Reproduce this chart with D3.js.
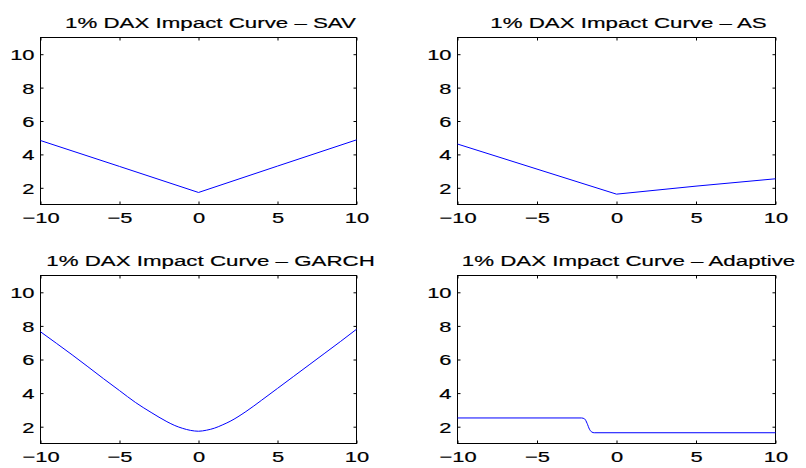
<!DOCTYPE html>
<html>
<head>
<meta charset="utf-8">
<script src="https://cdn.jsdelivr.net/npm/d3@7"></script>
<style>
  html, body { margin: 0; padding: 0; background: #fff; }
  svg { display: block; }
  text { font-family: "Liberation Sans", Arial, Helvetica, sans-serif; fill: #000; stroke: #000; stroke-width: 0.2px; }
</style>
</head>
<body>
<svg id="chart" width="806" height="468"></svg>
<script>
// Shared axis settings
const xTicks = [-10, -5, 0, 5, 10];
const yTicks = [2, 4, 6, 8, 10];
const xDomain = [-10, 10];
const yDomain = [1, 11];

// News impact curves (shock in %, 1% VaR level)
const savX = [-10, -5, 0, 5, 10];
const savY = [4.83, 3.28, 1.72, 3.30, 4.87];

const asX = [-10, -5, 0, 5, 10];
const asY = [4.62, 3.12, 1.62, 2.10, 2.54];

const garchX = [-10, -9, -8, -7, -6, -5, -4, -3, -2, -1.5, -1, -0.5, 0, 0.5, 1, 1.5, 2, 3, 4, 5, 6, 7, 8, 9, 10];
const garchY = [7.65, 6.97, 6.28, 5.57, 4.85, 4.15, 3.45, 2.85, 2.30, 2.07, 1.90, 1.78, 1.73, 1.79, 1.91, 2.10, 2.32, 2.90, 3.58, 4.28, 4.98, 5.68, 6.38, 7.08, 7.80];

const adaptX = [-10, -2.2, -2.0, -1.85, -1.7, -1.55, -1.4, 10];
const adaptY = [2.52, 2.52, 2.46, 2.20, 1.85, 1.68, 1.64, 1.64];

const titles = [
  "1% DAX Impact Curve \u2013 SAV",
  "1% DAX Impact Curve \u2013 AS",
  "1% DAX Impact Curve \u2013 GARCH",
  "1% DAX Impact Curve \u2013 Adaptive"
];

const panels = [
  { title: titles[0], xs: savX, ys: savY, box: [40.5, 356.5, 37.5, 204.5], curve: d3.curveLinear },
  { title: titles[1], xs: asX, ys: asY, box: [457.5, 775.5, 37.5, 204.5], curve: d3.curveLinear },
  { title: titles[2], xs: garchX, ys: garchY, box: [40.5, 356.5, 275.5, 443.5], curve: d3.curveMonotoneX },
  { title: titles[3], xs: adaptX, ys: adaptY, box: [457.5, 775.5, 275.5, 443.5], curve: d3.curveMonotoneX }
];

const stretch = 1.46;      // wide type used for tick labels
const fontSize = 15;
const titleSize = 15.5;
const titleStretch = 1.44; // and for the panel titles
const tickLen = 3;

const svg = d3.select("#chart");

panels.forEach(p => {
  const [x0, x1, y0, y1] = p.box;
  const x = d3.scaleLinear().domain(xDomain).range([x0, x1]);
  const y = d3.scaleLinear().domain(yDomain).range([y1, y0]);
  const g = svg.append("g");

  // axes frame
  g.append("rect")
    .attr("x", x0).attr("y", y0)
    .attr("width", x1 - x0).attr("height", y1 - y0)
    .attr("fill", "#fff").attr("stroke", "#000").attr("stroke-width", 1);

  // curve
  const pts = p.xs.map((v, i) => [v, p.ys[i]]);
  g.append("path")
    .datum(pts)
    .attr("fill", "none")
    .attr("stroke", "#0000ff")
    .attr("stroke-width", 1)
    .attr("d", d3.line().x(d => x(d[0])).y(d => y(d[1])).curve(p.curve));

  // bottom axis with labels, inward ticks
  const bottom = g.append("g")
    .attr("transform", `translate(0,${y1})`)
    .call(d3.axisBottom(x).tickValues(xTicks).tickSizeInner(-tickLen).tickSizeOuter(0));
  bottom.select(".domain").remove();
  bottom.selectAll("text")
    .attr("y", 0).attr("dy", null)
    .attr("font-size", fontSize)
    .attr("font-family", null)
    .attr("transform", `translate(0,18) scale(${stretch},1)`);

  // left axis with labels
  const left = g.append("g")
    .attr("transform", `translate(${x0},0)`)
    .call(d3.axisLeft(y).tickValues(yTicks).tickSizeInner(-tickLen).tickSizeOuter(0));
  left.select(".domain").remove();
  left.selectAll("text")
    .attr("x", 0).attr("dy", "0.36em")
    .attr("font-size", fontSize)
    .attr("font-family", null)
    .attr("transform", `translate(-6,0) scale(${stretch},1)`);

  // mirrored ticks on top and right
  const top = g.append("g")
    .attr("transform", `translate(0,${y0})`)
    .call(d3.axisTop(x).tickValues(xTicks).tickSizeInner(-tickLen).tickSizeOuter(0).tickFormat(""));
  top.select(".domain").remove();
  const right = g.append("g")
    .attr("transform", `translate(${x1},0)`)
    .call(d3.axisRight(y).tickValues(yTicks).tickSizeInner(-tickLen).tickSizeOuter(0).tickFormat(""));
  right.select(".domain").remove();

  g.selectAll(".tick line").attr("stroke", "#000");

  // title
  g.append("text")
    .attr("text-anchor", "middle")
    .attr("font-size", titleSize)
    .attr("transform", `translate(${(x0 + x1) / 2 + 12},${y0 - 10}) scale(${titleStretch},1)`)
    .text(p.title);
});
</script>
</body>
</html>
